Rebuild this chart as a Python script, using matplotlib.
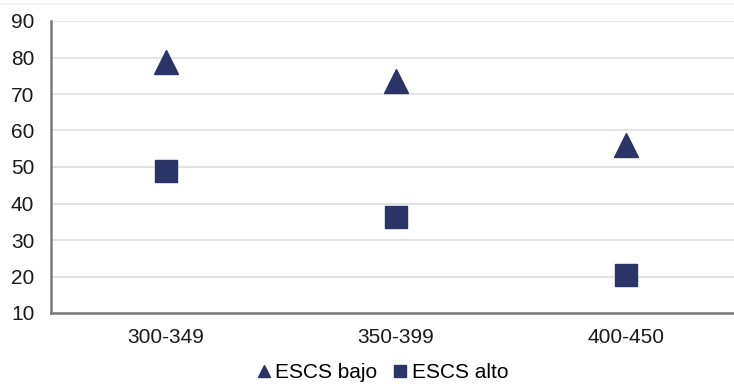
import matplotlib.pyplot as plt
from matplotlib.lines import Line2D

categories = ["300-349", "350-399", "400-450"]
escs_bajo = [78.8, 73.5, 56.0]
escs_alto = [49.0, 36.3, 20.3]
yticks = [10, 20, 30, 40, 50, 60, 70, 80, 90]

navy = "#2B3467"
plt.rcParams['font.family'] = ['Liberation Sans', 'DejaVu Sans']

fig = plt.figure(figsize=(7.34, 3.84), dpi=100)
ax = fig.add_axes([51 / 734, 71 / 384, 690 / 734, 292 / 384])

x = list(range(len(categories)))
ax.plot(x, escs_bajo, linestyle='none', marker='^', markersize=17, color=navy, label='ESCS bajo')
ax.plot(x, escs_alto, linestyle='none', marker='s', markersize=16, color=navy, label='ESCS alto')

ax.set_xlim(-0.5, 2.5)
ax.set_ylim(10, 90)
ax.set_yticks(yticks)
ax.set_xticks(x)
ax.set_xticklabels(categories)
ax.tick_params(axis='both', length=0, labelsize=15, colors='#1a1a1a')
ax.tick_params(axis='y', pad=12)
ax.tick_params(axis='x', pad=11)
ax.grid(axis='y', color='#e3e3e3', linewidth=1.5)
ax.set_axisbelow(True)
for s in ['top', 'right']:
    ax.spines[s].set_visible(False)
for s in ['left', 'bottom']:
    ax.spines[s].set_color('#7a7a7a')
    ax.spines[s].set_linewidth(1.8)

# faint frame line at the very top
fig.add_artist(Line2D([0, 1], [1 - 4 / 384, 1 - 4 / 384], color='#f0f0f0', linewidth=1.2))

handles = [
    Line2D([], [], linestyle='none', marker='^', markersize=9, color=navy),
    Line2D([], [], linestyle='none', marker='s', markersize=8, color=navy),
]
fig.legend(handles, ['ESCS bajo', 'ESCS alto'], loc='center', bbox_to_anchor=(381 / 734, 1 - 373 / 384),
           ncol=2, frameon=False, fontsize=15, handletextpad=0.05, columnspacing=0.6, handlelength=1.0)

fig.savefig('out.png', dpi=100)
